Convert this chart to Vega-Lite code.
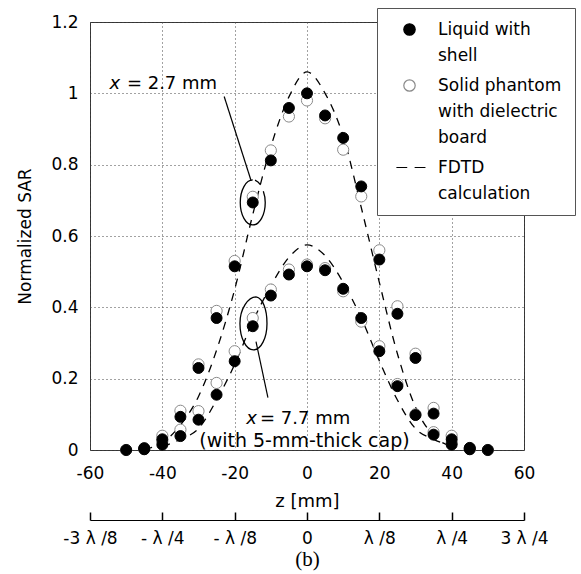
{
  "$schema": "https://vega.github.io/schema/vega-lite/v6.json",
  "width": 434,
  "height": 428,
  "autosize": {"type": "none"},
  "padding": {"left": 90, "top": 22, "right": 57, "bottom": 124},
  "background": "white",
  "datasets": {
    "fdtd": [
      {"curve": "x = 2.7 mm", "z": -45, "v": 0.003},
      {"curve": "x = 2.7 mm", "z": -40, "v": 0.02},
      {"curve": "x = 2.7 mm", "z": -35, "v": 0.07},
      {"curve": "x = 2.7 mm", "z": -30, "v": 0.15},
      {"curve": "x = 2.7 mm", "z": -25, "v": 0.28},
      {"curve": "x = 2.7 mm", "z": -20, "v": 0.45},
      {"curve": "x = 2.7 mm", "z": -15, "v": 0.66},
      {"curve": "x = 2.7 mm", "z": -10, "v": 0.85},
      {"curve": "x = 2.7 mm", "z": -5, "v": 0.99},
      {"curve": "x = 2.7 mm", "z": 0, "v": 1.06},
      {"curve": "x = 2.7 mm", "z": 5, "v": 1.0},
      {"curve": "x = 2.7 mm", "z": 10, "v": 0.88},
      {"curve": "x = 2.7 mm", "z": 15, "v": 0.68},
      {"curve": "x = 2.7 mm", "z": 20, "v": 0.47},
      {"curve": "x = 2.7 mm", "z": 25, "v": 0.27},
      {"curve": "x = 2.7 mm", "z": 30, "v": 0.12},
      {"curve": "x = 2.7 mm", "z": 35, "v": 0.04},
      {"curve": "x = 2.7 mm", "z": 40, "v": 0.01},
      {"curve": "x = 7.7 mm", "z": -40, "v": 0.01},
      {"curve": "x = 7.7 mm", "z": -35, "v": 0.03},
      {"curve": "x = 7.7 mm", "z": -30, "v": 0.06},
      {"curve": "x = 7.7 mm", "z": -25, "v": 0.14},
      {"curve": "x = 7.7 mm", "z": -20, "v": 0.24},
      {"curve": "x = 7.7 mm", "z": -15, "v": 0.36},
      {"curve": "x = 7.7 mm", "z": -10, "v": 0.46},
      {"curve": "x = 7.7 mm", "z": -5, "v": 0.54},
      {"curve": "x = 7.7 mm", "z": 0, "v": 0.575},
      {"curve": "x = 7.7 mm", "z": 5, "v": 0.545},
      {"curve": "x = 7.7 mm", "z": 10, "v": 0.47},
      {"curve": "x = 7.7 mm", "z": 15, "v": 0.37},
      {"curve": "x = 7.7 mm", "z": 20, "v": 0.25},
      {"curve": "x = 7.7 mm", "z": 25, "v": 0.14},
      {"curve": "x = 7.7 mm", "z": 30, "v": 0.06},
      {"curve": "x = 7.7 mm", "z": 35, "v": 0.03},
      {"curve": "x = 7.7 mm", "z": 40, "v": 0.01}
    ],
    "solid": [
      {"series": "Solid phantom with dielectric board", "curve": "x = 2.7 mm", "z": -50, "v": 0},
      {"series": "Solid phantom with dielectric board", "curve": "x = 2.7 mm", "z": -45, "v": 0.005},
      {"series": "Solid phantom with dielectric board", "curve": "x = 2.7 mm", "z": -40, "v": 0.04},
      {"series": "Solid phantom with dielectric board", "curve": "x = 2.7 mm", "z": -35, "v": 0.11},
      {"series": "Solid phantom with dielectric board", "curve": "x = 2.7 mm", "z": -30, "v": 0.24},
      {"series": "Solid phantom with dielectric board", "curve": "x = 2.7 mm", "z": -25, "v": 0.39},
      {"series": "Solid phantom with dielectric board", "curve": "x = 2.7 mm", "z": -20, "v": 0.53},
      {"series": "Solid phantom with dielectric board", "curve": "x = 2.7 mm", "z": -15, "v": 0.71},
      {"series": "Solid phantom with dielectric board", "curve": "x = 2.7 mm", "z": -10, "v": 0.84},
      {"series": "Solid phantom with dielectric board", "curve": "x = 2.7 mm", "z": -5, "v": 0.935},
      {"series": "Solid phantom with dielectric board", "curve": "x = 2.7 mm", "z": 0, "v": 0.98},
      {"series": "Solid phantom with dielectric board", "curve": "x = 2.7 mm", "z": 5, "v": 0.93},
      {"series": "Solid phantom with dielectric board", "curve": "x = 2.7 mm", "z": 10, "v": 0.842},
      {"series": "Solid phantom with dielectric board", "curve": "x = 2.7 mm", "z": 15, "v": 0.711},
      {"series": "Solid phantom with dielectric board", "curve": "x = 2.7 mm", "z": 20, "v": 0.56},
      {"series": "Solid phantom with dielectric board", "curve": "x = 2.7 mm", "z": 25, "v": 0.403},
      {"series": "Solid phantom with dielectric board", "curve": "x = 2.7 mm", "z": 30, "v": 0.27},
      {"series": "Solid phantom with dielectric board", "curve": "x = 2.7 mm", "z": 35, "v": 0.118},
      {"series": "Solid phantom with dielectric board", "curve": "x = 2.7 mm", "z": 40, "v": 0.04},
      {"series": "Solid phantom with dielectric board", "curve": "x = 2.7 mm", "z": 45, "v": 0.005},
      {"series": "Solid phantom with dielectric board", "curve": "x = 2.7 mm", "z": 50, "v": 0},
      {"series": "Solid phantom with dielectric board", "curve": "x = 7.7 mm", "z": -45, "v": 0.003},
      {"series": "Solid phantom with dielectric board", "curve": "x = 7.7 mm", "z": -40, "v": 0.025},
      {"series": "Solid phantom with dielectric board", "curve": "x = 7.7 mm", "z": -35, "v": 0.057},
      {"series": "Solid phantom with dielectric board", "curve": "x = 7.7 mm", "z": -30, "v": 0.109},
      {"series": "Solid phantom with dielectric board", "curve": "x = 7.7 mm", "z": -25, "v": 0.188},
      {"series": "Solid phantom with dielectric board", "curve": "x = 7.7 mm", "z": -20, "v": 0.277},
      {"series": "Solid phantom with dielectric board", "curve": "x = 7.7 mm", "z": -15, "v": 0.37},
      {"series": "Solid phantom with dielectric board", "curve": "x = 7.7 mm", "z": -10, "v": 0.45},
      {"series": "Solid phantom with dielectric board", "curve": "x = 7.7 mm", "z": -5, "v": 0.506},
      {"series": "Solid phantom with dielectric board", "curve": "x = 7.7 mm", "z": 0, "v": 0.52},
      {"series": "Solid phantom with dielectric board", "curve": "x = 7.7 mm", "z": 5, "v": 0.51},
      {"series": "Solid phantom with dielectric board", "curve": "x = 7.7 mm", "z": 10, "v": 0.445},
      {"series": "Solid phantom with dielectric board", "curve": "x = 7.7 mm", "z": 15, "v": 0.36},
      {"series": "Solid phantom with dielectric board", "curve": "x = 7.7 mm", "z": 20, "v": 0.291},
      {"series": "Solid phantom with dielectric board", "curve": "x = 7.7 mm", "z": 25, "v": 0.185},
      {"series": "Solid phantom with dielectric board", "curve": "x = 7.7 mm", "z": 30, "v": 0.1},
      {"series": "Solid phantom with dielectric board", "curve": "x = 7.7 mm", "z": 35, "v": 0.05},
      {"series": "Solid phantom with dielectric board", "curve": "x = 7.7 mm", "z": 40, "v": 0.02},
      {"series": "Solid phantom with dielectric board", "curve": "x = 7.7 mm", "z": 45, "v": 0.003}
    ],
    "liquid": [
      {"series": "Liquid with shell", "curve": "x = 2.7 mm", "z": -50, "v": 0},
      {"series": "Liquid with shell", "curve": "x = 2.7 mm", "z": -45, "v": 0.005},
      {"series": "Liquid with shell", "curve": "x = 2.7 mm", "z": -40, "v": 0.03},
      {"series": "Liquid with shell", "curve": "x = 2.7 mm", "z": -35, "v": 0.093},
      {"series": "Liquid with shell", "curve": "x = 2.7 mm", "z": -30, "v": 0.23},
      {"series": "Liquid with shell", "curve": "x = 2.7 mm", "z": -25, "v": 0.37},
      {"series": "Liquid with shell", "curve": "x = 2.7 mm", "z": -20, "v": 0.515},
      {"series": "Liquid with shell", "curve": "x = 2.7 mm", "z": -15, "v": 0.694},
      {"series": "Liquid with shell", "curve": "x = 2.7 mm", "z": -10, "v": 0.812},
      {"series": "Liquid with shell", "curve": "x = 2.7 mm", "z": -5, "v": 0.959},
      {"series": "Liquid with shell", "curve": "x = 2.7 mm", "z": 0, "v": 1.0},
      {"series": "Liquid with shell", "curve": "x = 2.7 mm", "z": 5, "v": 0.938},
      {"series": "Liquid with shell", "curve": "x = 2.7 mm", "z": 10, "v": 0.875},
      {"series": "Liquid with shell", "curve": "x = 2.7 mm", "z": 15, "v": 0.739},
      {"series": "Liquid with shell", "curve": "x = 2.7 mm", "z": 20, "v": 0.534},
      {"series": "Liquid with shell", "curve": "x = 2.7 mm", "z": 25, "v": 0.382},
      {"series": "Liquid with shell", "curve": "x = 2.7 mm", "z": 30, "v": 0.258},
      {"series": "Liquid with shell", "curve": "x = 2.7 mm", "z": 35, "v": 0.102},
      {"series": "Liquid with shell", "curve": "x = 2.7 mm", "z": 40, "v": 0.03},
      {"series": "Liquid with shell", "curve": "x = 2.7 mm", "z": 45, "v": 0.006},
      {"series": "Liquid with shell", "curve": "x = 2.7 mm", "z": 50, "v": 0},
      {"series": "Liquid with shell", "curve": "x = 7.7 mm", "z": -45, "v": 0.002},
      {"series": "Liquid with shell", "curve": "x = 7.7 mm", "z": -40, "v": 0.015},
      {"series": "Liquid with shell", "curve": "x = 7.7 mm", "z": -35, "v": 0.039},
      {"series": "Liquid with shell", "curve": "x = 7.7 mm", "z": -30, "v": 0.085},
      {"series": "Liquid with shell", "curve": "x = 7.7 mm", "z": -25, "v": 0.155},
      {"series": "Liquid with shell", "curve": "x = 7.7 mm", "z": -20, "v": 0.249},
      {"series": "Liquid with shell", "curve": "x = 7.7 mm", "z": -15, "v": 0.347},
      {"series": "Liquid with shell", "curve": "x = 7.7 mm", "z": -10, "v": 0.433},
      {"series": "Liquid with shell", "curve": "x = 7.7 mm", "z": -5, "v": 0.492},
      {"series": "Liquid with shell", "curve": "x = 7.7 mm", "z": 0, "v": 0.515},
      {"series": "Liquid with shell", "curve": "x = 7.7 mm", "z": 5, "v": 0.504},
      {"series": "Liquid with shell", "curve": "x = 7.7 mm", "z": 10, "v": 0.452},
      {"series": "Liquid with shell", "curve": "x = 7.7 mm", "z": 15, "v": 0.37},
      {"series": "Liquid with shell", "curve": "x = 7.7 mm", "z": 20, "v": 0.277},
      {"series": "Liquid with shell", "curve": "x = 7.7 mm", "z": 25, "v": 0.179},
      {"series": "Liquid with shell", "curve": "x = 7.7 mm", "z": 30, "v": 0.098},
      {"series": "Liquid with shell", "curve": "x = 7.7 mm", "z": 35, "v": 0.043},
      {"series": "Liquid with shell", "curve": "x = 7.7 mm", "z": 40, "v": 0.015},
      {"series": "Liquid with shell", "curve": "x = 7.7 mm", "z": 45, "v": 0.002}
    ]
  },
  "config": {
    "font": "DejaVu Sans",
    "view": {"stroke": "#333", "strokeWidth": 1},
    "style": {"guide-label": {"lineHeight": 26}},
    "axis": {
      "labelFont": "DejaVu Sans",
      "labelFontSize": 17,
      "labelColor": "black",
      "titleFont": "DejaVu Sans",
      "titleFontSize": 17,
      "titleFontWeight": "normal",
      "titleColor": "black",
      "ticks": false,
      "domain": false,
      "gridColor": "#444",
      "gridDash": [1, 3],
      "gridOpacity": 1,
      "gridWidth": 1,
      "labelOverlap": false,
      "labelFlush": false
    },
    "legend": {
      "orient": "none", "legendX": 287, "legendY": -14,
      "labelFont": "DejaVu Sans", "labelFontSize": 17, "labelColor": "black", "labelLimit": 300,
      "labelOffset": 20, "symbolOffset": 11, "symbolSize": 130, "symbolStrokeWidth": 1.2,
      "rowPadding": 12, "padding": 13,
      "strokeColor": "#555", "fillColor": "white"
    }
  },
  "layer": [
    {
      "data": {"name": "fdtd"},
      "mark": {"type": "line", "interpolate": "monotone", "color": "black", "strokeWidth": 1.3, "strokeDash": [8, 7]},
      "encoding": {
        "x": {
          "field": "z", "type": "quantitative",
          "scale": {"domain": [-60, 60], "nice": false},
          "axis": {
            "orient": "bottom", "offset": 70, "grid": false,
            "values": [-60, -40, -20, 0, 20, 40, 60],
            "labelExpr": "datum.value == -60 ? '-3 λ /8' : datum.value == -40 ? '- λ /4' : datum.value == -20 ? '- λ /8' : datum.value == 0 ? '0' : datum.value == 20 ? 'λ /8' : datum.value == 40 ? 'λ /4' : '3 λ /4'",
            "labelOverlap": false, "labelFlush": false,
            "domain": true, "domainColor": "black", "domainWidth": 1.2,
            "ticks": true, "tickSize": -8, "tickColor": "black", "tickWidth": 1.5,
            "labelPadding": 18,
            "title": "(b)", "titleFont": "Liberation Serif", "titleFontSize": 21, "titlePadding": 2
          }
        },
        "y": {
          "field": "v", "type": "quantitative",
          "scale": {"domain": [0, 1.2], "nice": false},
          "axis": {
            "values": [0, 0.2, 0.4, 0.6, 0.8, 1, 1.2],
            "format": "~g", "grid": true, "labelPadding": 12,
            "title": "Normalized SAR", "titlePadding": 16
          }
        },
        "detail": {"field": "curve"}
      }
    },
    {
      "data": {"name": "solid"},
      "mark": {"type": "point", "filled": true, "strokeWidth": 1, "size": 125, "opacity": 1},
      "encoding": {
        "x": {"field": "z", "type": "quantitative", "axis": null},
        "y": {"field": "v", "type": "quantitative"},
        "shape": {
          "field": "series", "type": "nominal",
          "scale": {
            "domain": ["Liquid with shell", "Solid phantom with dielectric board", "FDTD calculation"],
            "range": ["circle", "circle", "M-2.3,0H-0.4M0.9,0H2.8"]
          },
          "legend": {
            "title": null,
            "labelExpr": "datum.label == 'Liquid with shell' ? ['Liquid with', 'shell'] : datum.label == 'FDTD calculation' ? ['FDTD', 'calculation'] : ['Solid phantom', 'with dielectric', 'board']"
          }
        },
        "fill": {
          "field": "series", "type": "nominal",
          "scale": {
            "domain": ["Liquid with shell", "Solid phantom with dielectric board", "FDTD calculation"],
            "range": ["black", "white", "transparent"]
          },
          "legend": {
            "title": null,
            "labelExpr": "datum.label == 'Liquid with shell' ? ['Liquid with', 'shell'] : datum.label == 'FDTD calculation' ? ['FDTD', 'calculation'] : ['Solid phantom', 'with dielectric', 'board']"
          }
        },
        "stroke": {
          "field": "series", "type": "nominal",
          "scale": {
            "domain": ["Liquid with shell", "Solid phantom with dielectric board", "FDTD calculation"],
            "range": ["black", "#8a8a8a", "black"]
          },
          "legend": {
            "title": null,
            "labelExpr": "datum.label == 'Liquid with shell' ? ['Liquid with', 'shell'] : datum.label == 'FDTD calculation' ? ['FDTD', 'calculation'] : ['Solid phantom', 'with dielectric', 'board']"
          }
        }
      }
    },
    {
      "data": {"name": "liquid"},
      "mark": {"type": "point", "filled": true, "strokeWidth": 1, "size": 120, "opacity": 1},
      "encoding": {
        "x": {
          "field": "z", "type": "quantitative",
          "axis": {
            "orient": "bottom", "values": [-60, -40, -20, 0, 20, 40, 60],
            "labelExpr": "'' + datum.value",
            "grid": true, "labelPadding": 15, "title": "z [mm]", "titlePadding": 11, "titleFontSize": 18
          }
        },
        "y": {"field": "v", "type": "quantitative"},
        "shape": {"field": "series", "type": "nominal"},
        "fill": {"field": "series", "type": "nominal"},
        "stroke": {"field": "series", "type": "nominal"}
      }
    },
    {
      "data": {"values": [{}]},
      "mark": {"type": "rule", "color": "black", "strokeWidth": 1.2},
      "encoding": {
        "x": {"datum": -22.9, "type": "quantitative", "axis": null},
        "y": {"datum": 0.991, "type": "quantitative"},
        "x2": {"datum": -15.45},
        "y2": {"datum": 0.755}
      }
    },
    {
      "data": {"values": [{}]},
      "mark": {"type": "rule", "color": "black", "strokeWidth": 1.2},
      "encoding": {
        "x": {"datum": -14.1, "type": "quantitative", "axis": null},
        "y": {"datum": 0.304, "type": "quantitative"},
        "x2": {"datum": -10.8},
        "y2": {"datum": 0.147}
      }
    },
    {
      "data": {"values": [{}]},
      "mark": {"type": "point", "filled": false, "stroke": "black", "strokeWidth": 1.3, "opacity": 1, "size": 2025,
        "shape": "M0,-1C-0.306,-1,-0.555,-0.552,-0.555,0C-0.555,0.552,-0.306,1,0,1C0.306,1,0.555,0.552,0.555,0C0.555,-0.2,0.52,-0.36,0.47,-0.5M0.1,-0.99C0.2,-0.95,0.3,-0.85,0.35,-0.78"},
      "encoding": {
        "x": {"datum": -15, "type": "quantitative", "axis": null},
        "y": {"datum": 0.694, "type": "quantitative"}
      }
    },
    {
      "data": {"values": [{}]},
      "mark": {"type": "point", "filled": false, "stroke": "black", "strokeWidth": 1.3, "opacity": 1, "size": 2809,
        "shape": "M0.1,-1C-0.2,-1,-0.51,-0.552,-0.51,0C-0.51,0.552,-0.281,1,0,1C0.281,1,0.51,0.552,0.51,0C0.51,-0.552,0.35,-0.95,0.1,-1"},
      "encoding": {
        "x": {"datum": -14.8, "type": "quantitative", "axis": null},
        "y": {"datum": 0.355, "type": "quantitative"}
      }
    },
    {
      "data": {"values": [{}]},
      "mark": {"type": "text", "text": "x", "font": "DejaVu Sans", "fontSize": 18, "fontStyle": "italic", "align": "left", "baseline": "middle", "color": "black"},
      "encoding": {
        "x": {"datum": -54.6, "type": "quantitative", "axis": null},
        "y": {"datum": 1.027, "type": "quantitative"}
      }
    },
    {
      "data": {"values": [{}]},
      "mark": {"type": "text", "text": "= 2.7 mm", "font": "DejaVu Sans", "fontSize": 18, "align": "left", "baseline": "middle", "color": "black"},
      "encoding": {
        "x": {"datum": -49.8, "type": "quantitative", "axis": null},
        "y": {"datum": 1.027, "type": "quantitative"}
      }
    },
    {
      "data": {"values": [{}]},
      "mark": {"type": "text", "text": "x", "font": "DejaVu Sans", "fontSize": 18, "fontStyle": "italic", "align": "left", "baseline": "middle", "color": "black"},
      "encoding": {
        "x": {"datum": -16.8, "type": "quantitative", "axis": null},
        "y": {"datum": 0.088, "type": "quantitative"}
      }
    },
    {
      "data": {"values": [{}]},
      "mark": {"type": "text", "text": "= 7.7 mm", "font": "DejaVu Sans", "fontSize": 18, "align": "left", "baseline": "middle", "color": "black"},
      "encoding": {
        "x": {"datum": -13, "type": "quantitative", "axis": null},
        "y": {"datum": 0.088, "type": "quantitative"}
      }
    },
    {
      "data": {"values": [{}]},
      "mark": {"type": "text", "text": "(with 5-mm-thick cap)", "font": "DejaVu Sans", "fontSize": 19, "align": "center", "baseline": "middle", "color": "black"},
      "encoding": {
        "x": {"datum": -0.7, "type": "quantitative", "axis": null},
        "y": {"datum": 0.024, "type": "quantitative"}
      }
    }
  ],
  "resolve": {"axis": {"x": "independent"}}
}
